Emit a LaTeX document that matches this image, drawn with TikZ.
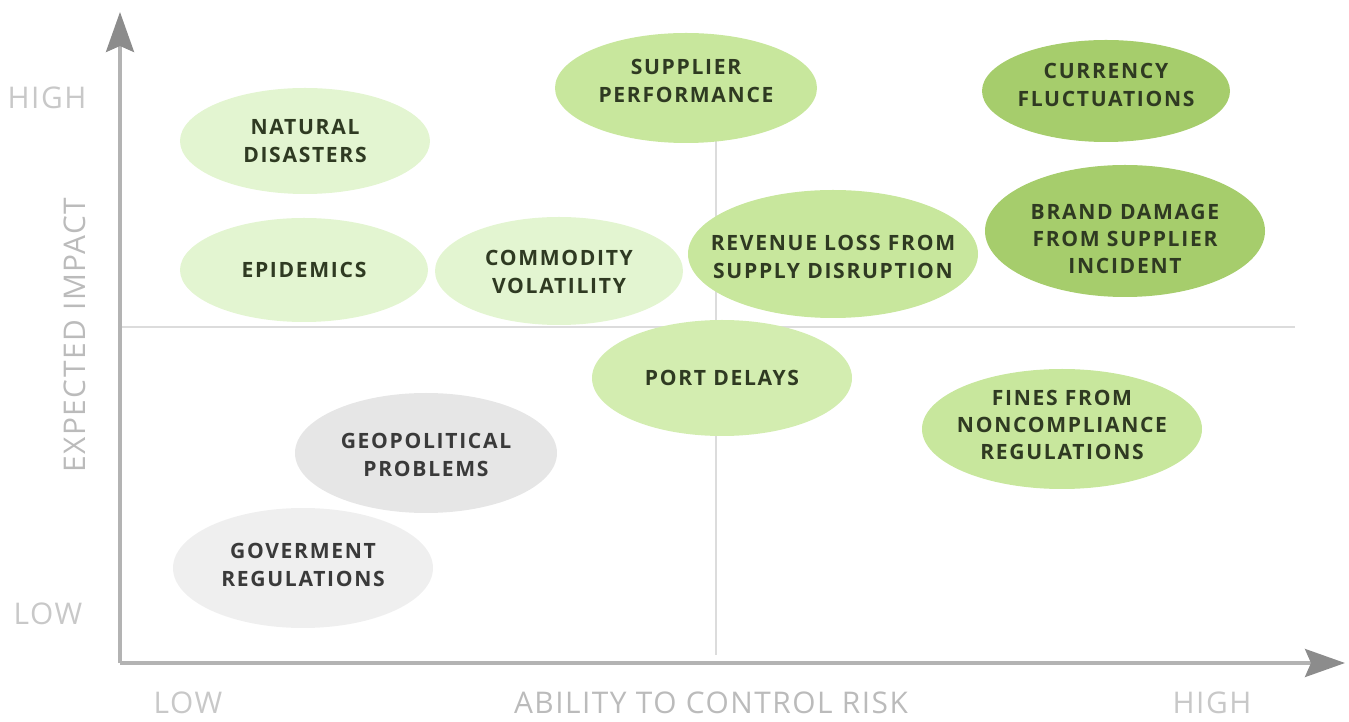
\documentclass[tikz,border=0pt]{standalone}
\usepackage{fontspec}
\setmainfont{Open Sans}
\newfontfamily\riskfont[LetterSpace=8]{Open Sans}
\newfontfamily\axisfont[LetterSpace=5]{Open Sans}
\usetikzlibrary{arrows.meta}

\definecolor{leafdark}{HTML}{A6CD6C}
\definecolor{leafmid}{HTML}{C8E79D}
\definecolor{leafport}{HTML}{D3EDB0}
\definecolor{leaflight}{HTML}{E3F5D1}
\definecolor{stone}{HTML}{E6E6E6}
\definecolor{stonelight}{HTML}{EFEFEF}
\definecolor{axisgray}{HTML}{B3B3B3}
\definecolor{tipgray}{HTML}{8C8C8C}
\definecolor{gridgray}{HTML}{DCDCDC}
\definecolor{labelgray}{HTML}{C8C8C8}
\definecolor{titlegray}{HTML}{BBBBBB}
\definecolor{inkgreen}{HTML}{2F3A22}
\definecolor{inkgray}{HTML}{3A3A3A}

\tikzset{
  risk/.style={font=\riskfont\bfseries\fontsize{12}{15.5}\selectfont, align=center, text=inkgreen},
  riskgray/.style={risk, text=inkgray},
  level/.style={font=\axisfont\fontsize{17}{20}\selectfont, text=labelgray},
  axistitle/.style={font=\axisfont\fontsize{17}{20}\selectfont, text=titlegray},
}

\begin{document}
\begin{tikzpicture}[x=0.02cm, y=-0.02cm]
\useasboundingbox (0,0) rectangle (1349,722);

% Quadrant lines
\draw[gridgray, line width=1.2pt] (120,327) -- (1295,327);
\draw[gridgray, line width=1.2pt] (716,40) -- (716,655);

% Axes
\coordinate (origin) at (120,663);
\coordinate (ytop) at (120,12);
\coordinate (xend) at (1345,663);
\draw[axisgray, line width=2pt, -{Stealth[length=0.8cm, width=0.56cm, inset=0.12cm, tipgray]}] (origin) -- (ytop);
\draw[axisgray, line width=2pt, -{Stealth[length=0.8cm, width=0.56cm, inset=0.12cm, tipgray]}] (origin) -- (xend);

% Axis labels
\node[level] (yhigh) at (47,98) {HIGH};
\node[level] (ylow) at (48,614) {LOW};
\node[level] (xlow) at (188,703) {LOW};
\node[level] (xhigh) at (1212,703) {HIGH};
\node[axistitle] (xtitle) at (711,703) {ABILITY TO CONTROL RISK};
\node[axistitle, rotate=90] (ytitle) at (75,335) {EXPECTED IMPACT};

% High impact, low control
\fill[leaflight] (305,141) ellipse (125 and 53);
\node[risk] (nat) at (305,141) {NATURAL\\DISASTERS};
\fill[leaflight] (304,270) ellipse (124 and 52);
\node[risk] (epi) at (304,270) {EPIDEMICS};
\fill[leaflight] (559,271) ellipse (124 and 54);
\node[risk] (com) at (559,272) {COMMODITY\\VOLATILITY};

% High impact, high control
\fill[leafmid] (686,88) ellipse (131 and 55);
\node[risk] (sup) at (686,81) {SUPPLIER\\PERFORMANCE};
\fill[leafmid] (833,254) ellipse (145 and 64);
\node[risk] (rev) at (833,257) {REVENUE LOSS FROM\\SUPPLY DISRUPTION};
\fill[leafdark] (1106,91) ellipse (124 and 51);
\node[risk] (cur) at (1106,85) {CURRENCY\\FLUCTUATIONS};
\fill[leafdark] (1125,231) ellipse (140 and 66);
\node[risk] (brand) at (1125,239) {BRAND DAMAGE\\FROM SUPPLIER\\INCIDENT};

% Low impact
\fill[leafport] (722,378) ellipse (130 and 58);
\node[risk] (port) at (722,378) {PORT DELAYS};
\fill[leafmid] (1062,429) ellipse (140 and 60);
\node[risk] (fine) at (1062,425) {FINES FROM\\NONCOMPLIANCE\\REGULATIONS};
\fill[stone] (426,453) ellipse (131 and 60);
\node[riskgray] (geo) at (426,455) {GEOPOLITICAL\\PROBLEMS};
\fill[stonelight] (303,568) ellipse (130 and 60);
\node[riskgray] (gov) at (303,565) {GOVERMENT\\REGULATIONS};
\end{tikzpicture}
\end{document}
